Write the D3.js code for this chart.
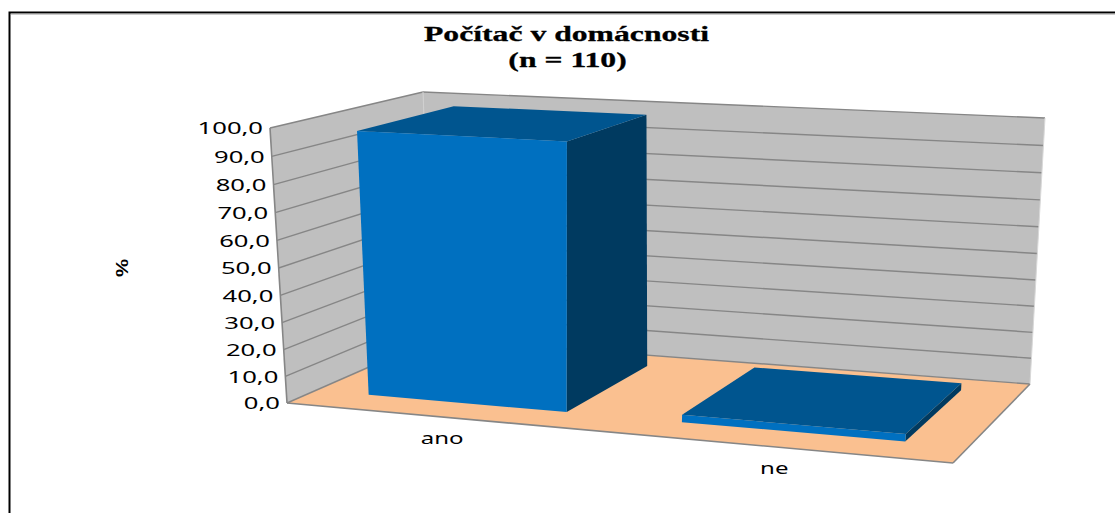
<!DOCTYPE html>
<html><head><meta charset="utf-8">
<script src="https://cdn.jsdelivr.net/npm/d3@7/dist/d3.min.js"></script>
<style>html,body{margin:0;padding:0;background:#fff}svg{display:block}</style>
</head><body><div id="c"></div>
<script>
// ---- data ----
const categories = ["ano", "ne"];
const values = [97.3, 2.7];
const tickValues = d3.range(0, 101, 10);
const titleLines = ["Počítač v domácnosti", "(n = 110)"];
const yTitle = "%";

// ---- layout ----
const W = 1115, H = 513;
const floorQuad = [[287,403],[953,463],[1030,384],[433,339]];
const topQuad   = [[270,128],[985,164],[1045,118],[423,92]];
const persp = -0.036;

function quadMap(q){
  const [p0,p1,p2,p3] = q;
  const sx=p0[0]-p1[0]+p2[0]-p3[0], sy=p0[1]-p1[1]+p2[1]-p3[1];
  const dx1=p1[0]-p2[0], dx2=p3[0]-p2[0], dy1=p1[1]-p2[1], dy2=p3[1]-p2[1];
  const det=dx1*dy2-dx2*dy1;
  const g=(sx*dy2-dx2*sy)/det, h=(dx1*sy-sx*dy1)/det;
  const a=p1[0]-p0[0]+g*p1[0], b=p3[0]-p0[0]+h*p3[0];
  const d=p1[1]-p0[1]+g*p1[1], e=p3[1]-p0[1]+h*p3[1];
  return (u,v)=>{const w=1+g*u+h*v;return [(p0[0]+a*u+b*v)/w,(p0[1]+d*u+e*v)/w];};
}
const floorH = quadMap(floorQuad), topH = quadMap(topQuad);

const xScale = d3.scaleBand().domain(categories).range([0.0015,1.0015]).paddingInner(0.354).paddingOuter(0.177);
const yScale = d3.scaleLinear().domain([0,100]).range([0,1]);
const zScale = d3.scaleLinear().domain([0,1]).range([0.18,0.845]);

function P(x,val,z){
  const v=yScale(val), t=v*(1+persp)/(1+persp*v);
  const a=floorH(x,z), b=topH(x,z);
  return [a[0]+(b[0]-a[0])*t, a[1]+(b[1]-a[1])*t];
}
const svg = d3.select("#c").append("svg").attr("width",W).attr("height",H);
svg.append("rect").attr("width",W).attr("height",H).attr("fill","#fff");
const poly = (pts,fill)=>svg.append("polygon").attr("points",pts.map(p=>p.join(",")).join(" ")).attr("fill",fill);
const line = (a,b,c,w)=>svg.append("line").attr("x1",a[0]).attr("y1",a[1]).attr("x2",b[0]).attr("y2",b[1]).attr("stroke",c).attr("stroke-width",w);

// chart frame
svg.append("path").attr("d",`M9.5,${H} V12.5 H${W}`).attr("fill","none").attr("stroke","#000").attr("stroke-width",2);
svg.append("path").attr("d",`M${W},14 H11`).attr("fill","none").attr("stroke","#999").attr("stroke-width",1);

// walls and floor
const [ymin,ymax]=yScale.domain();
poly([P(0,ymin,0),P(0,ymax,0),P(0,ymax,1),P(0,ymin,1)],"#BFBFBF");
poly([P(0,ymin,1),P(0,ymax,1),P(1,ymax,1),P(1,ymin,1)],"#BFBFBF");
poly([P(0,ymin,0),P(1,ymin,0),P(1,ymin,1),P(0,ymin,1)],"#FAC090");

const gridC="#868686";
tickValues.forEach(t=>{
  line(P(0,t,0),P(0,t,1),gridC,1.4);
  line(P(0,t,1),P(1,t,1),gridC,1.4);
});
line(P(0,ymin,0),P(0,ymax,0),gridC,1.6);
line(P(0,ymin,1),P(0,ymax,1),"#D0D0D0",1);
line(P(1,ymin,1),P(1,ymax,1),"#D8D8D8",1);
line(P(0,ymin,0),P(1,ymin,0),gridC,1.6);
line(P(1,ymin,0),P(1,ymin,1),gridC,1.6);

// bars
const zF=0, zB=1;
function PB(x,val,z){return P(x,val,zScale(z));}
categories.forEach((c,i)=>{
  const x0=xScale(c), x1=x0+xScale.bandwidth(), val=values[i];
  poly([PB(x1,0,zF),PB(x1,val,zF),PB(x1,val,zB),PB(x1,0,zB)],"#003A60");
  poly([PB(x0,val,zF),PB(x1,val,zF),PB(x1,val,zB),PB(x0,val,zB)],"#00558F");
  poly([PB(x0,0,zF),PB(x1,0,zF),PB(x1,val,zF),PB(x0,val,zF)],"#0070C0");
});

// text
const txt=(s,x,y,o)=>svg.append("text")
  .attr("transform",`translate(${x},${y}) ${o.rot?`rotate(${o.rot}) `:""}scale(${o.sx||1},1)`)
  .attr("text-anchor",o.anchor||"middle").attr("dominant-baseline","central")
  .attr("font-family",o.font||"'Noto Sans'").attr("font-size",o.size).attr("font-weight",o.weight||"normal")
  .attr("stroke",o.stroke?"#000":"none").attr("stroke-width",o.stroke||0)
  .attr("fill","#000").text(s);
tickValues.forEach(t=>{
  const p=P(0,t,0);
  txt(d3.format(".1f")(t).replace(".",","),p[0]-7,p[1],{anchor:"end",size:16,sx:1.6});
});
categories.forEach(c=>{
  const p=P(xScale(c)+xScale.bandwidth()/2,0,0);
  txt(c,p[0]+2.5,p[1]+21,{size:16,sx:1.5});
});
txt(titleLines[0],566.5,34,{size:22,weight:"bold",font:"'Liberation Serif'",sx:1.44,stroke:0.3});
txt(titleLines[1],567.5,60,{size:22,weight:"bold",font:"'Liberation Serif'",sx:1.44,stroke:0.3});
txt(yTitle,122,268,{size:17,weight:"bold",rot:-90,sx:1.2,font:"'Liberation Sans'"});
</script></body></html>
